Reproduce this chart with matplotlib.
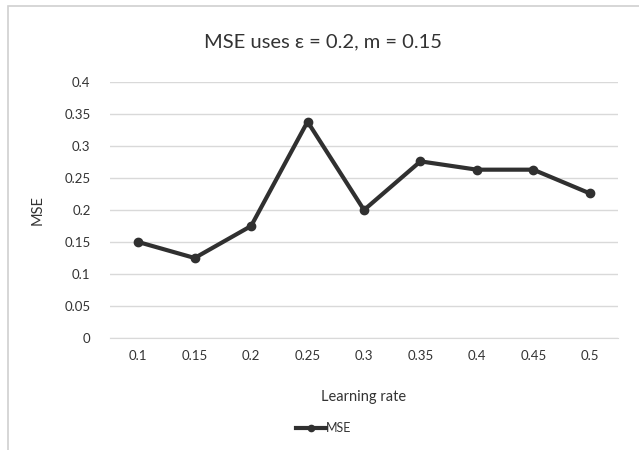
import matplotlib.pyplot as plt
from matplotlib.patches import Rectangle

# ---------------- Data ----------------
learning_rates = ["0.1", "0.15", "0.2", "0.25", "0.3", "0.35", "0.4", "0.45", "0.5"]
mse_values = [0.15, 0.125, 0.175, 0.338, 0.2, 0.276, 0.263, 0.263, 0.226]
y_ticks = [0, 0.05, 0.1, 0.15, 0.2, 0.25, 0.3, 0.35, 0.4]
y_tick_labels = ["0", "0.05", "0.1", "0.15", "0.2", "0.25", "0.3", "0.35", "0.4"]

plt.rcParams["font.family"] = ["Lato", "DejaVu Sans"]
TEXT = "#333333"
GRID = "#d9d9d9"
LINE = "#303030"

W, H = 639, 450
fig = plt.figure(figsize=(W / 100, H / 100), dpi=100)

# chart border
fig.patches.append(Rectangle((8 / W, -0.05), 1.1, 1 - 6 / H + 0.05, transform=fig.transFigure,
                             fill=False, edgecolor="#d0d0d0", linewidth=1.2))

ax = fig.add_axes([110 / W, 1 - 338 / H, (618 - 110) / W, (338 - 82) / H])

x = list(range(len(learning_rates)))
ax.plot(x, mse_values, color=LINE, linewidth=3, marker="o", markersize=6,
        label="MSE", solid_joinstyle="round", zorder=3)

ax.set_xlim(-0.5, len(learning_rates) - 0.5)
ax.set_ylim(0, 0.4)
ax.set_yticks(y_ticks)
ax.set_yticklabels(y_tick_labels)
ax.set_xticks(x)
ax.set_xticklabels(learning_rates)
ax.grid(axis="y", color=GRID, linewidth=1)
ax.set_axisbelow(True)
for s in ["top", "right", "left"]:
    ax.spines[s].set_visible(False)
ax.spines["bottom"].set_color(GRID)
ax.tick_params(length=0, colors=TEXT, labelsize=9.5)
ax.tick_params(axis="y", pad=14)
ax.tick_params(axis="x", pad=9)

ax.set_xlabel("Learning rate", color=TEXT, fontsize=10.5, labelpad=20)
fig.text(38 / W, 1 - 210 / H, "MSE", rotation=90, ha="center", va="center",
         color=TEXT, fontsize=10.5)
fig.text(0.5 + 8 / W / 2, 1 - 42 / H, "MSE uses \u03b5 = 0.2, m = 0.15", ha="center",
         va="center", color=TEXT, fontsize=14.5)

leg = fig.legend(loc="center", bbox_to_anchor=(0.5 + 8 / W / 2, 1 - 428 / H), frameon=False,
                 fontsize=9, handlelength=2.4, handletextpad=0.05, labelcolor=TEXT,
                 markerscale=0.75)

fig.savefig("out.png", dpi=100)
